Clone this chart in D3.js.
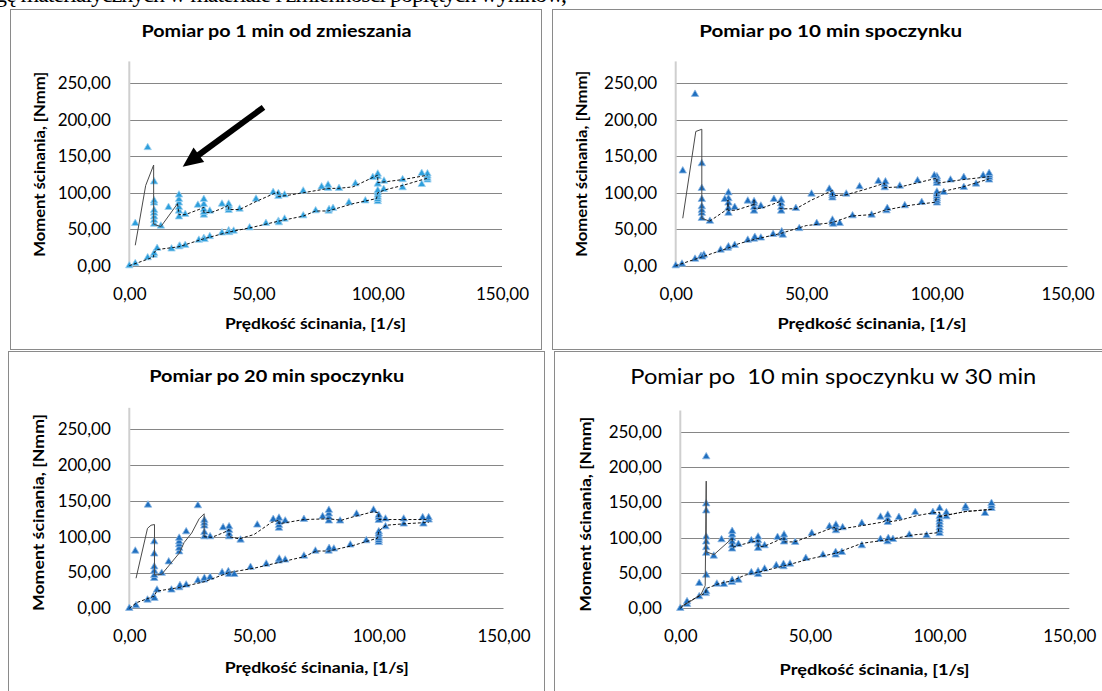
<!DOCTYPE html>
<html>
<head>
<meta charset="utf-8">
<script src="https://cdn.jsdelivr.net/npm/d3@7"></script>
<style>
  body { margin: 0; background: #ffffff; }
  svg { display: block; font-family: Lato, 'Open Sans', sans-serif; }
</style>
</head>
<body>
<svg id="chart" width="1102" height="691"></svg>
<script>
// shared axes
var xTicks = [0, 50, 100, 150]
var yTicks = [0, 50, 100, 150, 200, 250]
var xMax = 150
var yMax = 280

var titles = [
  'Pomiar po 1 min od zmieszania',
  'Pomiar po 10 min spoczynku',
  'Pomiar po 20 min spoczynku',
  'Pomiar po  10 min spoczynku w 30 min'
]
var xTitle = 'Prędkość ścinania, [1/s]'
var yTitle = 'Moment ścinania, [Nmm]'
var headerText = 'gę materiałycznych w materiale i zmienności popiętych wyników,'

// panel 1 : [shear rate, moment]
var p1Points = [
  [0, 0], [2.4, 3], [7.4, 11], [9.8, 14.6], [10, 17], [11.2, 23.8], [17, 23], [20, 26], [20.3, 27], [22.5, 28],
  [28, 35], [30, 37.5], [30.3, 36], [32.4, 40], [37.3, 45], [40, 48], [40.2, 45.5], [42, 47.5], [48.4, 52],
  [55, 58], [60, 61], [60.2, 59], [62.5, 64], [70, 68.5], [75, 75.4], [80.2, 75], [80.4, 77], [82, 78.6],
  [88.4, 86.4], [95, 89], [100, 88], [100, 91], [100, 94], [100, 97], [100, 100], [100, 103], [102.4, 104.7],
  [110, 107], [117.7, 111.5], [120, 117.5], [120, 120], [120, 123], [120, 126],
  [117.7, 126.6], [110, 118], [102.5, 116], [100, 112], [100, 122], [100, 125.7], [98, 121], [91, 112.4],
  [84.4, 106], [80, 106], [80, 110.6], [77.4, 108], [70, 102.4], [62.5, 97], [60, 95], [60, 99], [57.9, 100.5],
  [51, 91.4], [44.4, 77.7], [40, 76], [40, 79], [40, 82], [40, 84.5], [37.3, 84.5], [32.4, 75], [30, 69.5],
  [30, 73], [30, 77], [30, 84], [30, 91], [27.6, 83], [22.5, 70.4], [20, 67], [20, 75], [20, 80], [20, 86],
  [20, 91], [20, 97], [15.8, 80], [12.7, 54.4], [10, 57], [10, 62], [10, 67], [10, 72], [10, 76], [10, 86],
  [10, 89], [10, 115], [7.4, 162], [2.4, 58]
]
var p1Ramp = [[2.4, 28], [6.6, 110], [9.8, 138], [9.8, 57], [12.7, 53.5], [19.4, 85]]
var p1Upper = [
  [19.4, 85], [20, 70], [22.5, 70], [28, 77], [30, 80], [30, 73], [33, 73], [37, 78], [40, 83], [40, 77],
  [44.4, 77], [51, 88], [59.7, 101], [60, 95], [63, 96], [70, 100], [77, 104], [80, 106], [84, 106], [90, 108],
  [98, 121], [100, 124], [100, 114], [103, 115], [110, 118], [120, 124]
]
var p1Lower = [
  [0, 0], [5, 6], [9.8, 12], [9.8, 17], [11, 22], [20, 26], [30, 37], [40, 46], [50, 53], [60, 61], [70, 68],
  [75, 75], [80, 75], [90, 85], [99.5, 92], [100, 100], [103, 104], [110, 110], [120, 120]
]

// panel 2
var p2Points = [
  [0, 0], [2.4, 2.3], [7.4, 9], [9.7, 13], [10.8, 14.6], [10.2, 12], [17.2, 21.5], [19.9, 24], [20.2, 26],
  [22.6, 28], [27.6, 35], [30, 36.5], [30.3, 39], [32.6, 38], [37.3, 43], [40.4, 44], [40.6, 46.6], [41, 42],
  [47.3, 51], [54, 58], [60, 59], [60, 62.6], [60.3, 57], [62.8, 58], [67.7, 68.5], [75, 69.5], [80.7, 75.4],
  [81, 78.6], [87.7, 82.3], [94.2, 86.8], [100, 86], [100, 89], [100, 92], [100, 95], [100, 98], [100, 101],
  [102.6, 100.5], [110.3, 107.4], [115, 112], [120, 117.5],
  [120, 121], [120, 124], [120, 126.6], [117.7, 123.4], [110.3, 121], [105.2, 117.5], [100, 113], [100, 116],
  [100, 119], [100, 122], [99, 123.4], [92.6, 116.5], [85.8, 109.2], [80, 107], [80, 111], [80.3, 115],
  [77.6, 115.6], [70.4, 108.3], [65.3, 98.3], [60, 93], [60, 96], [60, 99], [58.8, 105], [52, 98.3], [46, 78.6],
  [40.4, 75], [40.4, 80], [40.4, 85], [40.4, 90], [37.6, 91], [32.6, 81.8], [30, 75], [30, 80], [30, 85],
  [30, 88], [27.6, 88.7], [22.6, 80], [20.2, 72], [20.2, 79], [20.2, 86], [20.2, 92], [20.2, 100], [18.8, 91],
  [13.1, 61], [10, 65], [10, 72], [10, 76], [10, 81], [10, 91], [10, 106], [10, 140], [7.4, 235], [2.7, 130]
]
var p2Ramp = [[2.7, 65], [7.7, 184], [10, 187], [10, 65], [13, 61]]
var p2Upper = [
  [13, 61], [20, 78], [20, 90], [20, 76], [23, 76], [30, 84], [30, 90], [30, 78], [33, 79], [40, 88], [40, 78],
  [46, 78], [52, 90], [60, 103], [60, 96], [65, 97], [72, 104], [80, 113], [80, 107], [86, 108], [93, 114],
  [100, 120], [100, 113], [110, 118], [120, 122]
]
var p2Lower = [
  [0, 0], [10, 12], [20, 24], [24, 30], [30, 36], [40, 44], [50, 55], [55, 57], [60, 59], [67, 68], [75, 70],
  [80, 76], [90, 83], [99.5, 87], [100, 100], [110, 108], [120, 119]
]

// panel 3
var p3Points = [
  [0, 0], [2.7, 3.7], [7.3, 11.6], [9.7, 16.3], [10.1, 14], [11.1, 25.6], [16.9, 25.6], [20, 28.9], [20.3, 31.7],
  [22.8, 32.6], [27.5, 38.6], [29.9, 39.6], [30.1, 41.9], [32.4, 43.3], [37.2, 49.8], [39.7, 51.2], [40, 47.5],
  [42.1, 47.5], [48.6, 57.3], [54.9, 61.9], [59.9, 66.1], [60.1, 68.9], [62.5, 67.5], [70, 73], [74.6, 80],
  [79.9, 80], [80.1, 83.8], [82, 82.9], [88.6, 88.5], [95, 94.5], [100, 92], [100, 95], [100, 98], [100, 101],
  [100, 104], [100, 107], [102.7, 114], [110, 117.8], [117.9, 117.8], [120, 123.4],
  [120, 126.6], [117.6, 126.6], [110, 124.8], [102.7, 124.8], [100, 123], [100, 127], [100, 130], [97.9, 137.3],
  [91.1, 131.7], [84.5, 122], [80, 122], [80, 127], [80, 132], [80, 137], [77.5, 128], [70, 124.3], [62.5, 122],
  [60, 112], [60, 116], [60, 120], [60, 126], [57.7, 124.3], [51.3, 116.4], [44.6, 95.4], [40, 100], [40, 104],
  [40, 109], [40, 114], [37.6, 112.7], [32.4, 100], [30.1, 100], [30.1, 106], [30.1, 115], [30.1, 119],
  [30.1, 123], [27.5, 143.4], [22.8, 107], [20, 79], [20, 84], [20, 89], [20, 93], [20, 98], [15.8, 65],
  [13, 49], [10, 42], [10, 46], [10, 52], [10, 58], [10, 76], [10, 93], [7.5, 144.3], [2.4, 80]
]
var p3Ramp = [
  [2.7, 42], [7.3, 111.7], [8.7, 116], [10.1, 117], [10.1, 46.5], [13, 47.5], [20, 77], [22, 92], [25, 105],
  [28, 125], [30, 132], [30, 100]
]
var p3Upper = [
  [30, 100], [33, 99], [38, 106], [40, 110], [40, 100], [44, 97], [50, 103], [57, 120], [60, 123], [60, 118],
  [70, 124], [80, 125], [85, 123], [90, 128], [98, 135], [100, 133], [100, 124], [120, 124]
]
var p3Lower = [
  [0, 0], [3, 8], [10, 17], [11, 24], [20, 29], [30, 37], [40, 50], [50, 56], [60, 64], [70, 72], [75, 80],
  [80, 80], [90, 88], [99.5, 98], [100, 108], [103, 116], [110, 118], [120, 120]
]

// panel 4
var p4Points = [
  [0, 0], [2.6, 5.7], [2.6, 9.4], [7.3, 16.5], [7.3, 35.4], [9.8, 21], [10, 23.6], [14.1, 34.4], [16.8, 34],
  [19.9, 36.8], [20, 39.6], [22.4, 40], [27.4, 50.5], [30, 48], [30, 52], [32.5, 55.7], [37, 60.4], [39.8, 59],
  [39.8, 62.3], [42.3, 62.7], [48.4, 70.8], [55, 75.5], [59.9, 75.5], [59.9, 79.2], [62.3, 79.2], [70, 88.7],
  [77.2, 97.6], [79.9, 94.3], [80.2, 99], [82, 97.6], [88.3, 103.8], [95, 103], [100, 106], [100, 110],
  [100, 114], [100, 118], [100, 122], [100, 126], [100, 130], [102.6, 129.7], [110, 141.5], [117.5, 134.4],
  [120, 141.5],
  [120, 145], [120, 148.6], [110, 143.9], [102.6, 135.4], [100, 141.5], [97.4, 135.8], [90.6, 135.8],
  [84.3, 128.8], [80, 121.7], [80, 126], [80, 132], [77.2, 129.2], [70, 120.3], [62.6, 114.2], [60, 110],
  [60, 114], [60, 118], [57.5, 115.6], [50.7, 106], [44.3, 93.4], [40, 94], [40, 99], [40, 104], [37.5, 100.5],
  [32.5, 88.7], [30, 85], [30, 91], [30, 96], [30, 101], [27.4, 95.8], [22.4, 90.6], [20, 84], [20, 89],
  [20, 94], [20, 99], [20, 104], [20, 109], [15.9, 97.2], [12.9, 74], [10, 214.6], [10, 148], [10, 138],
  [10, 101], [10, 94], [10, 86], [10, 78], [10, 47]
]
var p4Ramp = [[0, 2], [4, 10], [8, 20], [9.6, 32], [10, 180], [10, 80], [13, 76], [20, 99]]
var p4Upper = [
  [20, 99], [20, 86], [22.4, 89], [30, 96], [30, 87], [32.5, 88], [40, 100], [40, 94], [44, 94], [50, 102],
  [58, 113], [60, 115], [60, 110], [63, 113], [70, 117], [78, 122], [80, 126], [80, 122], [85, 125], [91, 131],
  [97, 135], [100, 136], [100, 130], [110, 137], [120, 140]
]
var p4Lower = [
  [0, 0], [3, 9], [9.8, 22], [10, 28], [15, 35], [20, 39], [25, 47], [30, 51], [40, 60], [50, 70], [60, 78],
  [70, 92], [80, 97], [90, 104], [99.5, 107], [100, 130], [110, 137], [120, 140]
]

// arrow drawn in the first chart (data coordinates)
var arrowFrom = [54, 217]
var arrowTo = [21.5, 135.7]

var commaFormat = d3.formatLocale({ decimal: ',', thousands: ' ', grouping: [3], currency: ['', ''] }).format('.2f')

var svg = d3.select('#chart')

var panels = [
  {
    title: titles[0], points: p1Points, ramp: p1Ramp, upper: p1Upper, lower: p1Lower,
    frame: [10.5, 9.5, 541.5, 349.5], x: [129.3, 502], y0: 265.7, y250: 83.3,
    color: '#2e9fdc', halo: '#9fd2f0',
    titleX: 276.5, titleY: 37, titleW: 270, titleSize: 17, titleWeight: 'bold',
    xtX: 315.4, xtY: 329, xtW: 181, ytX: 45, ytY: 164.2, ytW: 185, arrow: true
  },
  {
    title: titles[1], points: p2Points, ramp: p2Ramp, upper: p2Upper, lower: p2Lower,
    frame: [552.5, 9.5, 1103, 349.5], x: [675.7, 1067.5], y0: 265.7, y250: 83.3,
    color: '#1f6fbf', halo: '#8fb9e3',
    titleX: 830.7, titleY: 37, titleW: 263, titleSize: 17, titleWeight: 'bold',
    xtX: 872, xtY: 329, xtW: 189, ytX: 587, ytY: 163.8, ytW: 186
  },
  {
    title: titles[2], points: p3Points, ramp: p3Ramp, upper: p3Upper, lower: p3Lower,
    frame: [8.5, 351.5, 544.5, 693], x: [129.3, 503.5], y0: 608.3, y250: 429.3,
    color: '#1f6fbf', halo: '#8fb9e3',
    titleX: 276.7, titleY: 382, titleW: 255, titleSize: 17, titleWeight: 'bold',
    xtX: 316.7, xtY: 673, xtW: 184, ytX: 44, ytY: 512.5, ytW: 197
  },
  {
    title: titles[3], points: p4Points, ramp: p4Ramp, upper: p4Upper, lower: p4Lower,
    frame: [554.5, 351.5, 1103, 693], x: [680.3, 1069.3], y0: 608.3, y250: 431.7,
    color: '#1f6fbf', halo: '#8fb9e3',
    titleX: 833.3, titleY: 384, titleW: 406, titleSize: 21, titleWeight: 'normal',
    xtX: 874.6, xtY: 675, xtW: 190, ytX: 591, ytY: 514.2, ytW: 195
  }
]

// header line of the document, cut by the top edge of the picture
svg.append('text')
  .attr('x', -5)
  .attr('y', 1.5)
  .attr('font-family', "'Liberation Serif', serif")
  .attr('font-size', 24)
  .attr('textLength', 572)
  .attr('lengthAdjust', 'spacing')
  .attr('fill', '#000')
  .text(headerText)

panels.forEach(function (p) { drawPanel(p) })

/**
 * Draws one of the four charts
 *
 * @param {object} p panel description
 */
function drawPanel (p) {
  var g = svg.append('g')

  g.append('rect')
    .attr('x', p.frame[0])
    .attr('y', p.frame[1])
    .attr('width', p.frame[2] - p.frame[0])
    .attr('height', p.frame[3] - p.frame[1])
    .attr('fill', '#ffffff')
    .attr('stroke', '#8a8a8a')
    .attr('stroke-width', 1)

  var unit = (p.y0 - p.y250) / 250
  var x = d3.scaleLinear().domain([0, xMax]).range(p.x)
  var y = d3.scaleLinear().domain([0, yMax]).range([p.y0, p.y0 - yMax * unit])

  // gridlines
  g.selectAll('.grid')
    .data(yTicks).enter()
    .append('line')
    .attr('x1', x(0))
    .attr('x2', x(xMax))
    .attr('y1', function (d) { return Math.round(y(d)) + 0.5 })
    .attr('y2', function (d) { return Math.round(y(d)) + 0.5 })
    .attr('stroke', '#868686')
    .attr('stroke-width', 1)

  // vertical axis line
  g.append('line')
    .attr('x1', x(0))
    .attr('x2', x(0))
    .attr('y1', y(0))
    .attr('y2', y(yMax))
    .attr('stroke', '#cfcfcf')
    .attr('stroke-width', 2)

  var yAxis = d3.axisLeft(y).tickValues(yTicks).tickFormat(commaFormat).tickSize(0).tickPadding(18.5)
  var ya = g.append('g').attr('transform', 'translate(' + x(0) + ',0)').call(yAxis)
  ya.select('.domain').remove()
  ya.selectAll('text')
    .attr('font-family', "Lato, 'Open Sans', sans-serif")
    .attr('font-size', 17)
    .attr('fill', '#000')

  var xAxis = d3.axisBottom(x).tickValues(xTicks).tickFormat(commaFormat).tickSize(0).tickPadding(22)
  var xa = g.append('g').attr('transform', 'translate(0,' + y(0) + ')').call(xAxis)
  xa.select('.domain').remove()
  xa.selectAll('text')
    .attr('font-family', "Lato, 'Open Sans', sans-serif")
    .attr('font-size', 17)
    .attr('fill', '#000')

  // markers
  var tri = d3.symbol().type(d3.symbolTriangle).size(24)
  g.selectAll('.pt')
    .data(p.points).enter()
    .append('path')
    .attr('d', tri)
    .attr('transform', function (d) { return 'translate(' + x(d[0]) + ',' + y(d[1]) + ')' })
    .attr('fill', p.color)
    .attr('stroke', p.halo)
    .attr('stroke-width', 0.8)

  var line = d3.line()
    .x(function (d) { return x(d[0]) })
    .y(function (d) { return y(d[1]) })

  g.append('path')
    .datum(p.ramp)
    .attr('d', line)
    .attr('fill', 'none')
    .attr('stroke', '#4a4a4a')
    .attr('stroke-width', 1)

  ;[p.upper, p.lower].forEach(function (branch) {
    g.append('path')
      .datum(branch)
      .attr('d', line)
      .attr('fill', 'none')
      .attr('stroke', '#111')
      .attr('stroke-width', 1)
      .attr('stroke-dasharray', '3,2')
  })

  if (p.arrow) drawArrow(g, x, y)

  // titles
  g.append('text')
    .attr('x', p.titleX)
    .attr('y', p.titleY)
    .attr('text-anchor', 'middle')
    .attr('font-size', p.titleSize)
    .attr('font-weight', p.titleWeight)
    .attr('textLength', p.titleW)
    .attr('lengthAdjust', 'spacingAndGlyphs')
    .attr('xml:space', 'preserve')
    .style('white-space', 'pre')
    .text(p.title)

  g.append('text')
    .attr('x', p.xtX)
    .attr('y', p.xtY)
    .attr('text-anchor', 'middle')
    .attr('font-size', 15.5)
    .attr('font-weight', 'bold')
    .attr('textLength', p.xtW)
    .attr('lengthAdjust', 'spacingAndGlyphs')
    .text(xTitle)

  g.append('text')
    .attr('transform', 'translate(' + p.ytX + ',' + p.ytY + ') rotate(-90)')
    .attr('text-anchor', 'middle')
    .attr('font-size', 15.5)
    .attr('font-weight', 'bold')
    .attr('textLength', p.ytW)
    .attr('lengthAdjust', 'spacingAndGlyphs')
    .text(yTitle)
}

/**
 * Thick black arrow pointing at the start of the hysteresis loop
 *
 * @param g
 * @param x
 * @param y
 */
function drawArrow (g, x, y) {
  var x1 = x(arrowFrom[0])
  var y1 = y(arrowFrom[1])
  var x2 = x(arrowTo[0])
  var y2 = y(arrowTo[1])
  var len = Math.hypot(x2 - x1, y2 - y1)
  var ux = (x2 - x1) / len
  var uy = (y2 - y1) / len
  var head = 20
  var half = 9
  var bx = x2 - ux * head
  var by = y2 - uy * head

  g.append('line')
    .attr('x1', x1)
    .attr('y1', y1)
    .attr('x2', bx + ux * 2)
    .attr('y2', by + uy * 2)
    .attr('stroke', '#000')
    .attr('stroke-width', 6)

  g.append('path')
    .attr('d', 'M' + x2 + ',' + y2 +
      'L' + (bx - uy * half) + ',' + (by + ux * half) +
      'L' + (bx + uy * half) + ',' + (by - ux * half) + 'Z')
    .attr('fill', '#000')
}
</script>
</body>
</html>
